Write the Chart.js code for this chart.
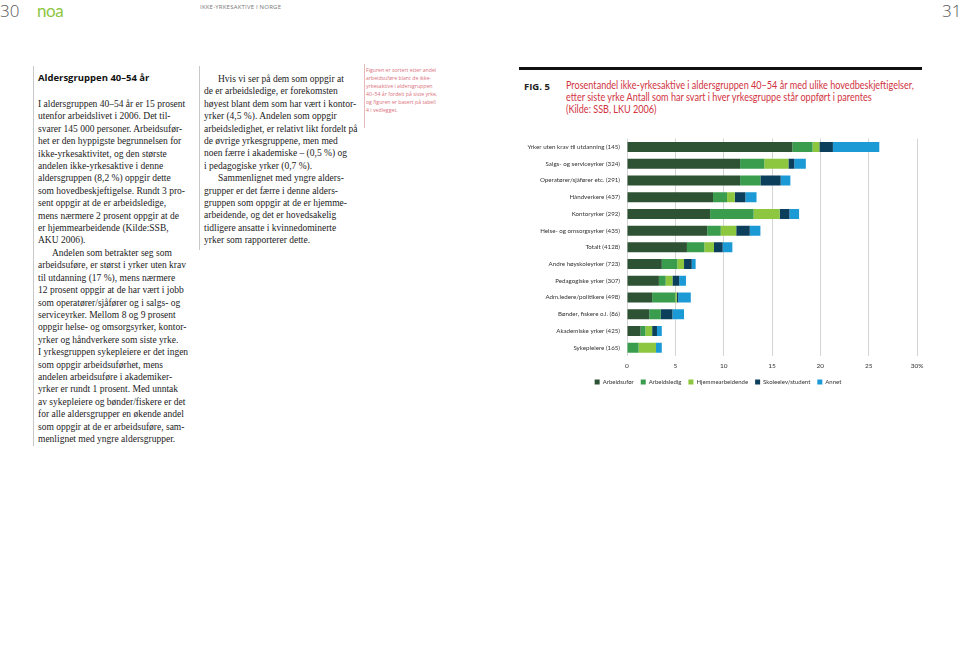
<!DOCTYPE html>
<html lang="no">
<head>
<meta charset="utf-8">
<title>Ikke-yrkesaktive i Norge – side 30–31</title>
<script src="https://cdn.jsdelivr.net/npm/chart.js@4/dist/chart.umd.min.js"></script>
<style>
  html, body { margin: 0; padding: 0; background: #fff; }
  #page { position: relative; width: 960px; height: 646px; overflow: hidden; background: #fff; }
  .abs { position: absolute; white-space: nowrap; }
  .pnum { font-family: "Open Sans", sans-serif; font-weight: 300; font-size: 17px; color: #555; top: -1px; }
  .logo { left: 37px; top: 0px; font-family: Lato, sans-serif; font-weight: 400; font-size: 17px; color: #8dc63f; letter-spacing: -0.5px; }
  .runhead { left: 200px; top: 3px; font-family: "Open Sans", sans-serif; font-size: 6px; color: #777; letter-spacing: 0.2px; }
  .rule { position: absolute; width: 1px; background: #c8c8c8; }
  .body { font-family: "Liberation Serif", "DejaVu Serif", serif; font-size: 9.5px; line-height: 12.4px; color: #222; }
  .body .ind { padding-left: 14px; }
  .h2 { left: 38px; top: 71px; font-family: "Open Sans", sans-serif; font-weight: 700; font-size: 9.5px; color: #111; }
  .note { left: 366px; top: 66px; font-family: "Open Sans", sans-serif; font-size: 5.2px; line-height: 8px; color: #d9707c; }
  .figno { left: 524px; top: 80px; font-family: "Open Sans", sans-serif; font-weight: 700; font-size: 9.5px; color: #222; }
  .figtitle { left: 566px; top: 79px; font-family: Lato, sans-serif; font-size: 10.5px; line-height: 12px; color: #d1343f;
              transform: scaleX(0.865); transform-origin: left top; }
  #chartBox { position: absolute; left: 519px; top: 128px; width: 411px; height: 267px; }
</style>
</head>
<body>
<div id="page">
  <div class="abs pnum" style="left:0px;">30</div>
  <div class="abs logo">noa</div>
  <div class="abs runhead">IKKE-YRKESAKTIVE I NORGE</div>
  <div class="abs pnum" style="left:942px;">31</div>

  <div class="rule" style="left:33px; top:66px; height:380px;"></div>
  <div class="rule" style="left:199px; top:66px; height:184px;"></div>
  <div class="rule" style="left:364px; top:64px; height:64px; background:#e3b9bd;"></div>

  <div class="abs h2">Aldersgruppen 40–54 år</div>
  <div class="abs body" style="left:38px; top:98px;">
    I aldersgruppen 40–54 år er 15 prosent<br>
    utenfor arbeidslivet i 2006. Det til-<br>
    svarer 145 000 personer. Arbeidsufør-<br>
    het er den hyppigste begrunnelsen for<br>
    ikke-yrkesaktivitet, og den største<br>
    andelen ikke-yrkesaktive i denne<br>
    aldersgruppen (8,2 %) oppgir dette<br>
    som hovedbeskjeftigelse. Rundt 3 pro-<br>
    sent oppgir at de er arbeidsledige,<br>
    mens nærmere 2 prosent oppgir at de<br>
    er hjemmearbeidende (Kilde:SSB,<br>
    AKU 2006).<br>
    <span class="ind">Andelen som betrakter seg som</span><br>
    arbeidsuføre, er størst i yrker uten krav<br>
    til utdanning (17 %), mens nærmere<br>
    12 prosent oppgir at de har vært i jobb<br>
    som operatører/sjåfører og i salgs- og<br>
    serviceyrker. Mellom 8 og 9 prosent<br>
    oppgir helse- og omsorgsyrker, kontor-<br>
    yrker og håndverkere som siste yrke.<br>
    I yrkesgruppen sykepleiere er det ingen<br>
    som oppgir arbeidsuførhet, mens<br>
    andelen arbeidsuføre i akademiker-<br>
    yrker er rundt 1 prosent. Med unntak<br>
    av sykepleiere og bønder/fiskere er det<br>
    for alle aldersgrupper en økende andel<br>
    som oppgir at de er arbeidsuføre, sam-<br>
    menlignet med yngre aldersgrupper.
  </div>

  <div class="abs body" style="left:204px; top:73px;">
    <span class="ind">Hvis vi ser på dem som oppgir at</span><br>
    de er arbeidsledige, er forekomsten<br>
    høyest blant dem som har vært i kontor-<br>
    yrker (4,5 %). Andelen som oppgir<br>
    arbeidsledighet, er relativt likt fordelt på<br>
    de øvrige yrkesgruppene, men med<br>
    noen færre i akademiske – (0,5 %) og<br>
    i pedagogiske yrker (0,7 %).<br>
    <span class="ind">Sammenlignet med yngre alders-</span><br>
    grupper er det færre i denne alders-<br>
    gruppen som oppgir at de er hjemme-<br>
    arbeidende, og det er hovedsakelig<br>
    tidligere ansatte i kvinnedominerte<br>
    yrker som rapporterer dette.
  </div>

  <div class="abs note">
    Figuren er sortert etter andel<br>
    arbeidsuføre blant de ikke-<br>
    yrkesaktive i aldersgruppen<br>
    40–54 år fordelt på siste yrke,<br>
    og figuren er basert på tabell<br>
    4 i vedlegget.
  </div>

  <div style="position:absolute; left:519px; top:67px; width:403px; height:3px; background:#111;"></div>
  <div class="abs figno">FIG. 5</div>
  <div class="abs figtitle">
    Prosentandel ikke-yrkesaktive i aldersgruppen 40–54 år med ulike hovedbeskjeftigelser,<br>
    etter siste yrke Antall som har svart i hver yrkesgruppe står oppført i parentes<br>
    (Kilde: SSB, LKU 2006)
  </div>

  <div id="chartBox"><canvas id="fig5"></canvas></div>
</div>

<script>
// Yrkesgrupper (antall svar i parentes), sortert som i figuren
const kategorier = [
    'Yrker uten krav til utdanning (145)',
    'Salgs- og serviceyrker (324)',
    'Operatører/sjåfører etc. (291)',
    'Håndverkere (437)',
    'Kontoryrker (292)',
    'Helse- og omsorgsyrker (435)',
    'Totalt (4128)',
    'Andre høyskoleyrker (723)',
    'Pedagogiske yrker (307)',
    'Adm.ledere/politikere (498)',
    'Bønder, fiskere o.l. (86)',
    'Akademiske yrker (425)',
    'Sykepleiere (165)'
];

// Prosent per hovedbeskjeftigelse
const arbeidsufor      = [17.1, 11.7, 11.7, 8.9, 8.6, 8.3, 6.2, 3.6, 3.3, 2.6, 2.3, 1.4, 0];
const arbeidsledig     = [2.1, 2.5, 2.1, 1.45, 4.5, 1.4, 1.8, 1.6, 0.7, 2.4, 1.2, 0.5, 1.2];
const hjemmearbeidende = [0.7, 2.5, 0, 0.8, 2.7, 1.6, 1.0, 0.7, 0.7, 0.15, 0, 0.7, 1.8];
const skoleelev        = [1.4, 0.6, 2.1, 1.1, 1.0, 1.4, 0.9, 0.8, 0.7, 0.15, 1.2, 0.5, 0];
const annet            = [4.8, 1.2, 1.0, 1.15, 1.0, 1.1, 1.0, 0.4, 0.7, 1.3, 1.2, 0.5, 0.6];

const tickLabels = ['0', '5', '10', '15', '20', '25', '30%'];

const serier = [
    { label: 'Arbeidsufør',       data: arbeidsufor,      color: '#2e5234' },
    { label: 'Arbeidsledig',      data: arbeidsledig,     color: '#3a9d4e' },
    { label: 'Hjemmearbeidende',  data: hjemmearbeidende, color: '#8dc63f' },
    { label: 'Skoleelev/student', data: skoleelev,        color: '#0c3f5c' },
    { label: 'Annet',             data: annet,            color: '#1c9ad6' }
];

const FONT = 'Lato, "Open Sans", sans-serif';

const ctx = document.getElementById('fig5').getContext('2d');
const fig5 = new Chart(ctx, {
    type: 'bar',
    data: {
        labels: kategorier,
        datasets: serier.map(s => ({
            label: s.label,
            data: s.data,
            backgroundColor: s.color,
            borderWidth: 0,
            barPercentage: 0.6,
            categoryPercentage: 1
        }))
    },
    options: {
        indexAxis: 'y',
        responsive: true,
        maintainAspectRatio: false,
        animation: false,
        layout: { padding: { top: 8, right: 13, left: 0, bottom: 0 } },
        plugins: {
            tooltip: { enabled: false },
            legend: {
                position: 'bottom',
                labels: {
                    boxWidth: 5,
                    boxHeight: 5,
                    padding: 7,
                    color: '#333',
                    font: { family: FONT, size: 6 }
                }
            }
        },
        scales: {
            x: {
                stacked: true,
                min: 0,
                max: 30,
                border: { display: false },
                grid: { color: '#d4d4d4', lineWidth: 1, drawTicks: false },
                ticks: {
                    stepSize: 5,
                    padding: 6,
                    color: '#333',
                    font: { family: FONT, size: 6.5 },
                    callback: (v, i) => tickLabels[i]
                },
                afterFit: scale => { scale.height = 16; }
            },
            y: {
                stacked: true,
                border: { display: false },
                grid: { display: false, drawTicks: false },
                ticks: {
                    padding: 7,
                    color: '#333',
                    font: { family: FONT, size: 6.2 }
                },
                afterFit: scale => { scale.width = 108; }
            }
        }
    }
});
console.log('chartArea', JSON.stringify(fig5.chartArea));
</script>
</body>
</html>
